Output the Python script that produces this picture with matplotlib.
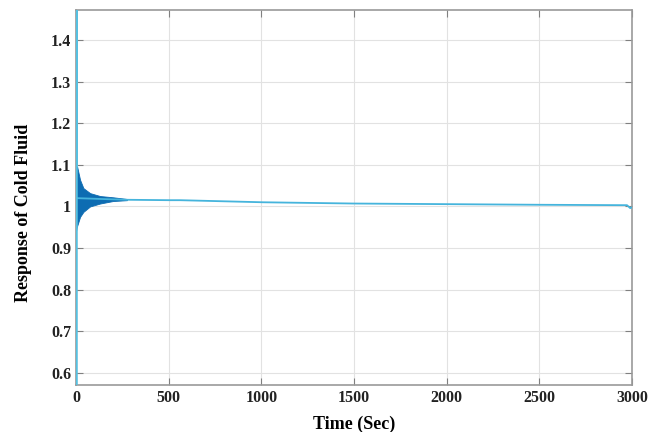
import matplotlib.pyplot as plt

# settled response of the cold fluid (trend line)
time_s = [0, 130, 200, 275, 507, 561, 1009, 1495, 2000, 2504, 2973, 2990, 3000]
response = [1.02, 1.018, 1.017, 1.016, 1.015, 1.015, 1.010, 1.007, 1.0055, 1.004, 1.003, 0.996, 0.998]

# envelope of the early oscillation
osc_t = [0, 4, 22, 40, 76, 130, 200, 275]
osc_upper = [1.12, 1.10, 1.064, 1.044, 1.032, 1.025, 1.022, 1.018]
osc_lower = [0.94, 0.95, 0.975, 0.987, 1.0, 1.007, 1.013, 1.015]

# initial spike at t = 0
spike_t = [0, 0, 0]
spike_y = [0.5, 1.5, 1.1]

xticks = [0, 500, 1000, 1500, 2000, 2500, 3000]
yticks = [0.6, 0.7, 0.8, 0.9, 1.0, 1.1, 1.2, 1.3, 1.4]
ytick_labels = ['0.6', '0.7', '0.8', '0.9', '1', '1.1', '1.2', '1.3', '1.4']

plt.rcParams['font.family'] = ['Liberation Serif', 'DejaVu Serif']

fig = plt.figure(figsize=(6.54, 4.32), dpi=100)
ax = fig.add_axes([0.1162, 0.1088, 0.8502, 0.8681])

ax.fill_between(osc_t, osc_lower, osc_upper, color='#0d6cb2', linewidth=0.6, zorder=3)
ax.plot(time_s, response, color='#45b4dc', linewidth=1.3, zorder=4)
ax.plot(spike_t, spike_y, color='#56c0e0', linewidth=1.8, zorder=5, clip_on=True)

ax.set_xlim(0, 3000)
ax.set_ylim(0.571, 1.472)
ax.set_xticks(xticks)
ax.set_yticks(yticks)
ax.set_yticklabels(ytick_labels)

ax.grid(True, color='#e2e2e2', linewidth=0.8)
ax.set_axisbelow(True)
ax.tick_params(direction='in', top=True, right=True, length=5, width=0.8,
               color='#808080', labelsize=11.5)
for lab in ax.get_xticklabels() + ax.get_yticklabels():
    lab.set_fontweight('bold')
    lab.set_color('#222222')
for sp in ax.spines.values():
    sp.set_color('#9a9a9a')
    sp.set_linewidth(1.2)

ax.set_xlabel('Time (Sec)', fontsize=13, fontweight='bold', labelpad=7)
ax.set_ylabel('Response of Cold Fluid', fontsize=13, fontweight='bold')
ax.yaxis.set_label_coords(-0.08, 0.46)

fig.savefig('out.png', dpi=100)
